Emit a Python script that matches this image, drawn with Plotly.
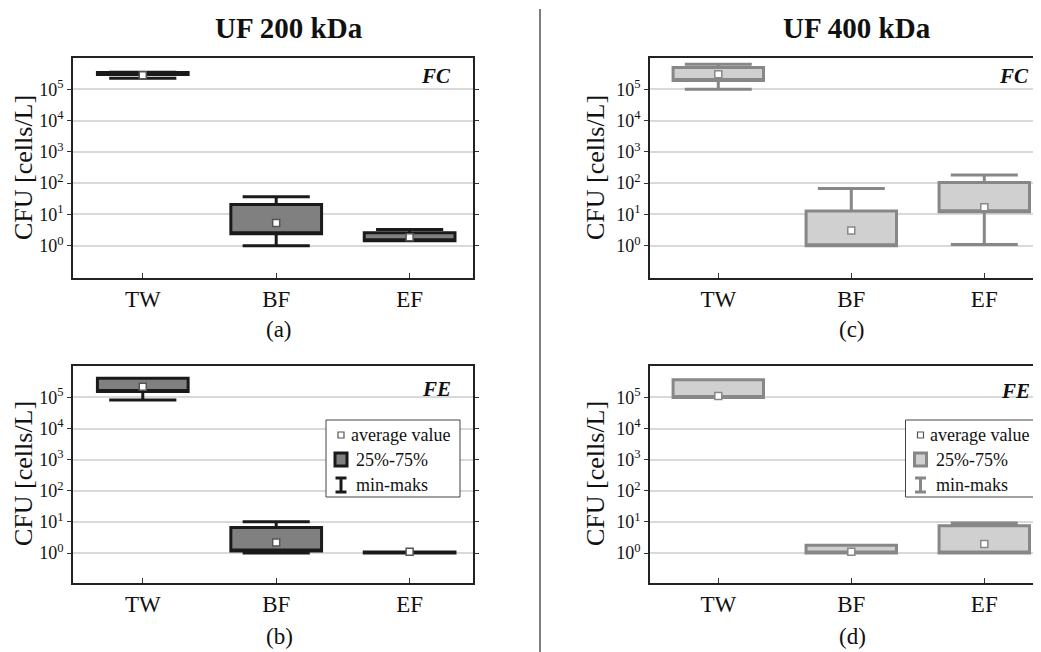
import plotly.graph_objects as go

# the page places the figure 8 px from the top-left corner of the window
OFF = 8
FW, FH = 1060, 660

# ---------------- data ----------------
categories = ["TW", "BF", "EF"]
x_pos = [1, 2, 3]
y_tickvals = [1, 10, 100, 1000, 10000, 100000]
y_ticktext = ["10<sup>0</sup>", "10<sup>1</sup>", "10<sup>2</sup>",
              "10<sup>3</sup>", "10<sup>4</sup>", "10<sup>5</sup>"]

# (a) UF 200 kDa, FC
a_min = [2.24e5, 1.0, 1.44]
a_q1 = [2.95e5, 2.4, 1.45]
a_q3 = [3.47e5, 21.0, 2.6]
a_max = [3.50e5, 37.0, 3.3]
a_mean = [2.8e5, 5.3, 1.86]

# (b) UF 200 kDa, FE
b_min = [8.3e4, 1.0, 1.0]
b_q1 = [1.54e5, 1.18, 1.0]
b_q3 = [4.1e5, 6.7, 1.08]
b_max = [4.1e5, 10.1, 1.08]
b_mean = [2.2e5, 2.2, 1.1]

# (c) UF 400 kDa, FC
c_min = [1.0e5, 1.0, 1.1]
c_q1 = [1.9e5, 1.0, 12.2]
c_q3 = [5.0e5, 13.0, 105.0]
c_max = [6.3e5, 68.0, 182.0]
c_mean = [3.0e5, 3.1, 17.0]

# (d) UF 400 kDa, FE
d_min = [1.0e5, 1.0, 1.0]
d_q1 = [1.0e5, 1.0, 1.0]
d_q3 = [3.7e5, 1.8, 7.5]
d_max = [3.7e5, 1.8, 9.2]
d_mean = [1.12e5, 1.1, 1.95]

legend_labels = ["average value", "25%-75%", "min-maks"]

# ---------------- style ----------------
FONT = "Liberation Serif"
DARK_LINE, DARK_FILL = "#1a1a1a", "#808080"
LIGHT_LINE, LIGHT_FILL = "#878787", "#d0d0d0"


def X(px):
    return (px - OFF) / FW


def Y(py):
    return 1 - (py - OFF) / FH


fig = go.Figure()

panels = [
    ("x", "y", a_min, a_q1, a_q3, a_max, a_mean, DARK_LINE, DARK_FILL, "#555555"),
    ("x2", "y2", b_min, b_q1, b_q3, b_max, b_mean, DARK_LINE, DARK_FILL, "#555555"),
    ("x3", "y3", c_min, c_q1, c_q3, c_max, c_mean, LIGHT_LINE, LIGHT_FILL, "#888888"),
    ("x4", "y4", d_min, d_q1, d_q3, d_max, d_mean, LIGHT_LINE, LIGHT_FILL, "#888888"),
]

for xa, ya, mn, q1, q3, mx, mean, lc, fc, mc in panels:
    fig.add_trace(go.Box(
        x=x_pos, q1=q1, median=q1, q3=q3, lowerfence=mn, upperfence=mx,
        width=0.68, whiskerwidth=0.74, fillcolor=fc,
        line=dict(color=lc, width=3), boxpoints=False,
        xaxis=xa, yaxis=ya, showlegend=False, hoverinfo="skip"))
    fig.add_trace(go.Scatter(
        x=x_pos, y=mean, mode="markers",
        marker=dict(symbol="square", size=7, color="white",
                    line=dict(color=mc, width=1.5)),
        xaxis=xa, yaxis=ya, showlegend=False, hoverinfo="skip"))

left_dom = [X(73), X(473)]
right_dom = [X(650), X(1046)]
top_dom = [Y(278), Y(58)]
bot_dom = [Y(582.7), Y(366.3)]


def xaxis(domain, rng, anchor):
    return dict(domain=domain, range=rng, anchor=anchor, tickvals=x_pos,
                ticktext=categories, ticks="inside", ticklen=5, tickcolor="#333",
                showline=True, linecolor="#222", linewidth=1.5, mirror=True,
                showgrid=False, zeroline=False, ticklabelstandoff=0,
                tickfont=dict(family=FONT, size=23, color="#111"))


def yaxis(domain, rng, anchor):
    return dict(domain=domain, range=rng, anchor=anchor, type="log",
                tickvals=y_tickvals, ticktext=y_ticktext, ticks="outside",
                ticklen=4, tickcolor="#333", showline=True, linecolor="#222",
                linewidth=1.5, mirror="ticks", showgrid=True, gridcolor="#d9d9d9",
                gridwidth=1.5, zeroline=False,
                tickfont=dict(family=FONT, size=18, color="#111"))


fig.update_layout(
    width=FW, height=FH, template="none",
    margin=dict(l=0, r=0, t=0, b=0),
    paper_bgcolor="white", plot_bgcolor="white",
    font=dict(family=FONT, color="#111"),
    xaxis=xaxis(left_dom, [0.477, 3.475], "y"),
    yaxis=yaxis(top_dom, [-1.03, 6.0], "x"),
    xaxis2=xaxis(left_dom, [0.477, 3.475], "y2"),
    yaxis2=yaxis(bot_dom, [-0.95, 6.0], "x2"),
    xaxis3=xaxis(right_dom, [0.4865, 3.464], "y3"),
    yaxis3=yaxis(top_dom, [-1.03, 6.0], "x3"),
    xaxis4=xaxis(right_dom, [0.4865, 3.464], "y4"),
    yaxis4=yaxis(bot_dom, [-0.95, 6.0], "x4"),
)

ann = []


def text(px, py, s, size, xanchor="center", angle=0, bold=False, italic=False):
    if bold:
        s = "<b>" + s + "</b>"
    if italic:
        s = "<i>" + s + "</i>"
    ann.append(dict(x=X(px), y=Y(py), xref="paper", yref="paper", text=s,
                    showarrow=False, xanchor=xanchor, yanchor="middle",
                    textangle=angle, font=dict(family=FONT, size=size, color="#111")))


text(289, 28, "UF 200 kDa", 29, bold=True)
text(857, 28, "UF 400 kDa", 29, bold=True)
for cx, cy in [(23, 168), (23, 474), (595, 168), (595, 474)]:
    text(cx, cy, "CFU [cells/L]", 26, angle=-90)
text(279, 330, "(a)", 23)
text(279, 636, "(b)", 23)
text(852, 330, "(c)", 23)
text(852, 636, "(d)", 23)
text(453, 76, "FC", 21, xanchor="right", bold=True, italic=True)
text(453, 389, "FE", 21, xanchor="right", bold=True, italic=True)
text(1031, 76, "FC", 21, xanchor="right", bold=True, italic=True)
text(1032, 391, "FE", 21, xanchor="right", bold=True, italic=True)

shapes = [dict(type="line", xref="paper", yref="paper", x0=X(540), x1=X(540),
               y0=Y(9), y1=Y(660), line=dict(color="#555", width=1.5))]


def legend(x0, x1, line_c, fill_c, mark_c):
    shapes.append(dict(type="rect", xref="paper", yref="paper", x0=X(x0), x1=X(x1),
                       y0=Y(497), y1=Y(420), line=dict(color="#444", width=1),
                       fillcolor="white"))
    sx = x0 + 15
    # average value marker
    shapes.append(dict(type="rect", xref="paper", yref="paper", x0=X(sx - 3), x1=X(sx + 3),
                       y0=Y(438), y1=Y(432), line=dict(color=mark_c, width=1.2),
                       fillcolor="white"))
    # box symbol
    shapes.append(dict(type="rect", xref="paper", yref="paper", x0=X(sx - 6), x1=X(sx + 6),
                       y0=Y(466), y1=Y(453), line=dict(color=line_c, width=3),
                       fillcolor=fill_c))
    # whisker symbol
    shapes.append(dict(type="line", xref="paper", yref="paper", x0=X(sx), x1=X(sx),
                       y0=Y(492), y1=Y(478), line=dict(color=line_c, width=3)))
    for yy in (478, 492):
        shapes.append(dict(type="line", xref="paper", yref="paper", x0=X(sx - 5.5),
                           x1=X(sx + 5.5), y0=Y(yy), y1=Y(yy),
                           line=dict(color=line_c, width=3)))
    text(x0 + 23, 435, legend_labels[0], 18, xanchor="left")
    text(x0 + 28, 460, legend_labels[1], 18, xanchor="left")
    text(x0 + 28, 485, legend_labels[2], 18, xanchor="left")


legend(326, 460, DARK_LINE, DARK_FILL, "#555")
legend(905.5, 1037, LIGHT_LINE, LIGHT_FILL, "#555")

fig.update_layout(annotations=ann, shapes=shapes)
fig.write_html("out.html")
